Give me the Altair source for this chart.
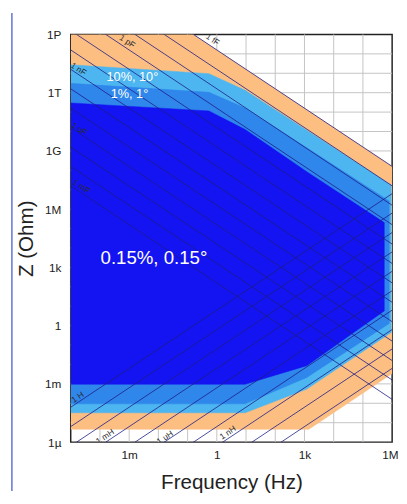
import altair as alt
import pandas as pd
import math

# ---------------- data ----------------
x_domain = [1e-5, 1e6]
y_domain = [1e-6, 1e15]
x_label_values = [1e-3, 1, 1e3, 1e6]
y_label_values = [1e-6, 1e-3, 1, 1e3, 1e6, 1e9, 1e12, 1e15]

grid_f_exp = [-4, -3, -2, -1, 0, 1, 2, 3, 4, 5]
grid_z_exp = [-5, -4, -3, -2, -1, 0, 1, 2, 3, 4, 5, 6, 7, 8, 9, 10, 11, 12, 13, 14]

# accuracy regions: outline vertices as (log10 f, log10 Z)
orange_f = [-5, -0.80, 6.0, 6.0, 3.15, -5]
orange_z = [15, 15, 8.20, -2.47, -5.34, -5.34]
light_f = [-5, -0.27, 0.97, 5.97, 5.97, 3.08, 0.97, -5]
light_z = [13.44, 12.98, 12.12, 7.23, -0.35, -3.27, -4.49, -4.49]
medium_f = [-5, -0.27, 0.97, 5.90, 5.90, 3.08, 0.97, -5]
medium_z = [12.48, 12.02, 11.21, 6.42, 0.11, -2.67, -4.03, -4.03]
dark_f = [-5, -0.27, 0.97, 3.08, 5.73, 5.73, 4.89, 3.08, 0.97, -5]
dark_z = [11.47, 11.06, 10.10, 7.93, 5.31, 0.76, -0.14, -2.06, -3.02, -3.02]

region_names = ["orange", "light", "medium", "dark"]
region_colors = ["#FDBE82", "#4DB6F0", "#2F87EC", "#1414F2"]

region_text = ["10%, 10°", "1%, 1°", "0.15%, 0.15°"]
region_text_f = [-2.89, -2.99, -2.15]
region_text_z = [12.78, 11.92, 3.49]
region_text_size = [13, 13, 19]

capacitances = [1e-15, 1e-14, 1e-13, 1e-12, 1e-11, 1e-10, 1e-9,
                1e-8, 1e-7, 1e-6, 1e-5, 1e-4, 1e-3]
inductances = [1e-9, 1e-8, 1e-7, 1e-6, 1e-5, 1e-4, 1e-3, 1e-2, 1e-1, 1.0]

cap_labels = ["1 pF", "1 fF", "1 nF", "1 uF", "1 mF"]
cap_label_f = [-3.06, -0.14, -4.73, -4.70, -4.63]
cap_label_z = [14.65, 14.75, 13.23, 10.15, 7.18]
ind_labels = ["1 H", "1 mH", "1 uH", "1 nH"]
ind_label_f = [-4.77, -3.83, -1.78, 0.37]
ind_label_z = [-3.68, -5.70, -5.75, -5.50]

# ---------------- encodings ----------------
FONT = "Liberation Sans"
PREFIX_EXPR = "'1' + ['\u00b5','m','','k','M','G','T','P'][round(log(datum.value)/LN10/3)+2]"
xs = alt.Scale(type="log", domain=x_domain, nice=False)
ys = alt.Scale(type="log", domain=y_domain, nice=False)
x_axis = alt.Axis(
    values=x_label_values, labelExpr=PREFIX_EXPR,
    ticks=False, domain=False, grid=False, labelFlush=True, labelFlushOffset=6,
    labelFont=FONT, labelFontSize=12, labelColor="#222", labelPadding=8,
    title="Frequency (Hz)", titleFont=FONT, titleFontSize=21, titleFontWeight="normal",
    titleColor="#222", titleY=47, titleBaseline="alphabetic",
)
y_axis = alt.Axis(
    values=y_label_values, labelExpr=PREFIX_EXPR,
    ticks=False, domain=False, grid=False, labelFlush=False,
    labelFont=FONT, labelFontSize=12, labelColor="#222", labelPadding=10,
    title="Z (Ohm)", titleFont=FONT, titleFontSize=21, titleFontWeight="normal",
    titleColor="#222", titleX=-39, titleY=208, titleAngle=270, titleBaseline="alphabetic",
)


def X():
    return alt.X("f:Q", scale=xs, axis=x_axis)


def Y():
    return alt.Y("z:Q", scale=ys, axis=y_axis)


# grid
vgrid = alt.Chart(pd.DataFrame({"f": [10.0 ** e for e in grid_f_exp]})).mark_rule(
    color="#c4c4c4", strokeWidth=1).encode(x=X())
hgrid = alt.Chart(pd.DataFrame({"z": [10.0 ** e for e in grid_z_exp]})).mark_rule(
    color="#c4c4c4", strokeWidth=1).encode(y=Y())

layers = [vgrid, hgrid]

for name, color, fl, zl in zip(
        region_names, region_colors,
        [orange_f, light_f, medium_f, dark_f],
        [orange_z, light_z, medium_z, dark_z]):
    df = pd.DataFrame({"f": [10.0 ** v for v in fl], "z": [10.0 ** v for v in zl],
                       "i": list(range(len(fl)))})
    layers.append(
        alt.Chart(df).mark_line(fill=color, stroke=color, strokeWidth=0.5, clip=True)
        .encode(x=X(), y=Y(), order=alt.Order("i:Q"))
    )

# reactance lines
rows = []
for k, c in enumerate(capacitances):
    for f in x_domain:
        rows.append({"id": f"C{k}", "f": f, "z": 1.0 / (2 * math.pi * f * c)})
for k, l in enumerate(inductances):
    for f in x_domain:
        rows.append({"id": f"L{k}", "f": f, "z": 2 * math.pi * f * l})
lines = alt.Chart(pd.DataFrame(rows)).mark_line(
    color="#1c1c86", strokeWidth=0.8, clip=True).encode(
    x=X(), y=Y(), detail="id:N")
layers.append(lines)

cap_df = pd.DataFrame({"t": cap_labels, "f": [10.0 ** v for v in cap_label_f],
                       "z": [10.0 ** v for v in cap_label_z]})
layers.append(alt.Chart(cap_df).mark_text(
    angle=33.6, font=FONT, fontSize=8.5, color="#2a2a2a", align="center", baseline="middle",
    clip=True).encode(x=X(), y=Y(), text="t:N"))
ind_df = pd.DataFrame({"t": ind_labels, "f": [10.0 ** v for v in ind_label_f],
                       "z": [10.0 ** v for v in ind_label_z]})
layers.append(alt.Chart(ind_df).mark_text(
    angle=326.4, font=FONT, fontSize=8.5, color="#2a2a2a", align="center", baseline="middle",
    clip=True).encode(x=X(), y=Y(), text="t:N"))

for t, f, z, s in zip(region_text, region_text_f, region_text_z, region_text_size):
    tdf = pd.DataFrame({"t": [t], "f": [10.0 ** f], "z": [10.0 ** z]})
    layers.append(alt.Chart(tdf).mark_text(
        font=FONT, fontSize=s, color="white", align="center", baseline="middle").encode(
        x=X(), y=Y(), text="t:N"))

frame = alt.Chart(pd.DataFrame({"a": [0]})).mark_rule(
    color="#3550c8", strokeWidth=1.2, clip=False).encode(
    x=alt.value(-60), y=alt.value(-22), y2=alt.value(466))
layers.append(frame)

chart = alt.layer(*layers).properties(
    width=328, height=416,
    autosize=alt.AutoSizeParams(type="none"),
    padding={"left": 64, "top": 22, "right": 7, "bottom": 50},
).configure_view(stroke="#222", strokeWidth=1.5)

chart.save("out.html", embed_options={"renderer": "svg", "actions": False})
